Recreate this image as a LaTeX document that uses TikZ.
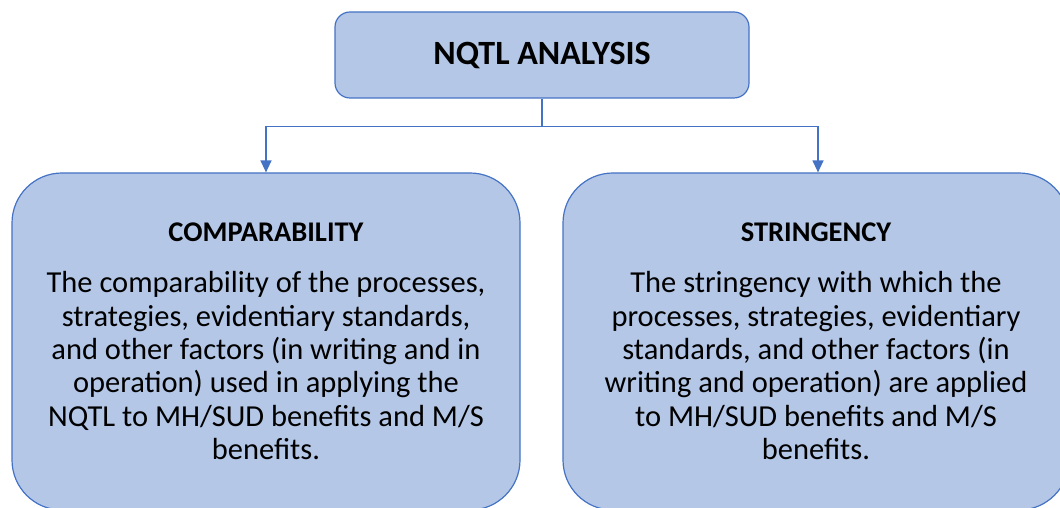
\documentclass[tikz,border=0pt]{standalone}
\usepackage{fontspec}
\setmainfont{Carlito}
\usetikzlibrary{shapes,arrows.meta,positioning,calc}
\definecolor{boxfill}{HTML}{B4C7E7}
\definecolor{boxline}{HTML}{4472C4}
\tikzstyle{arrow}=[draw, boxline, line width=1.3pt, -{Triangle[width=11pt,length=12pt]}]
\tikzstyle{link}=[draw, boxline, line width=1.3pt]
\tikzstyle{headbox}=[draw=boxline, fill=boxfill, line width=1.2pt, rounded corners=15pt, minimum width=414pt, minimum height=86pt, font=\fontsize{34}{40}\selectfont\bfseries]
\tikzstyle{textbox}=[draw=boxline, fill=boxfill, line width=1.2pt, rounded corners=50pt, minimum height=337pt, align=center, font=\fontsize{30.5}{33.4}\selectfont]

\begin{document}
\begin{tikzpicture}

\useasboundingbox (0,0) rectangle (1060pt,508pt);
\clip (0,0) rectangle (1060pt,508pt);

\node (analysis) [headbox] at (542pt,453pt) {NQTL ANALYSIS};
\node (compare) [textbox, minimum width=508pt] at (266pt,166.5pt) {{\fontsize{28.5}{33.4}\selectfont\bfseries COMPARABILITY}\\[17.6pt]
  The comparability of the processes,\\
  strategies, evidentiary standards,\\
  and other factors (in writing and in\\
  operation) used in applying the\\
  NQTL to MH/SUD benefits and M/S\\
  benefits.};
\node (stringency) [textbox, minimum width=506pt] at (816pt,166.5pt) {{\fontsize{28.5}{33.4}\selectfont\bfseries STRINGENCY}\\[17.6pt]
  The stringency with which the\\
  processes, strategies, evidentiary\\
  standards, and other factors (in\\
  writing and operation) are applied\\
  to MH/SUD benefits and M/S\\
  benefits.};

\coordinate (split) at ($(analysis.south)+(0,-28pt)$);

\draw [link] (analysis.south) -- (split);
\draw [arrow] (split) -| (compare.north);
\draw [arrow] (split) -| ($(stringency.north)+(2pt,0)$);

\end{tikzpicture}
\end{document}
